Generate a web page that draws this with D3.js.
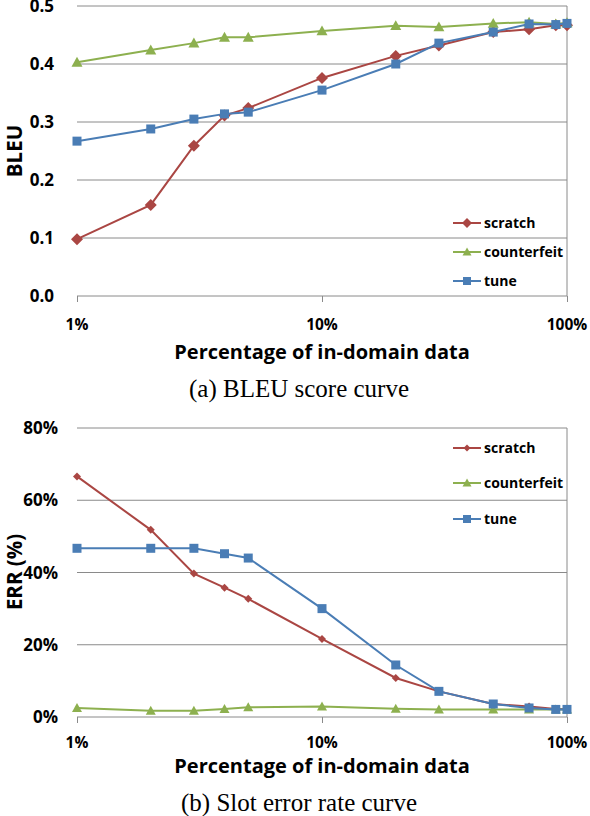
<!DOCTYPE html>
<html>
<head>
<meta charset="utf-8">
<script src="https://cdn.jsdelivr.net/npm/d3@7"></script>
<style>
body { margin: 0; background: #fff; }
</style>
</head>
<body>
<div id="chart"></div>
<script>
// percentage of in-domain data (x values, log scale)
var pct = [1, 2, 3, 4, 5, 10, 20, 30, 50, 70, 90, 100];
var xTicks = [1, 10, 100];
var xTickLabels = ["1%", "10%", "100%"];
var seriesNames = ["scratch", "counterfeit", "tune"];

// (a) BLEU
var bleuScratch     = [0.098, 0.157, 0.259, 0.311, 0.324, 0.376, 0.414, 0.432, 0.455, 0.460, 0.467, 0.467];
var bleuCounterfeit = [0.403, 0.424, 0.436, 0.446, 0.446, 0.457, 0.466, 0.464, 0.470, 0.472, 0.469, 0.471];
var bleuTune        = [0.267, 0.288, 0.305, 0.314, 0.317, 0.355, 0.400, 0.436, 0.455, 0.469, 0.468, 0.470];
var bleuTicks = [0, 0.1, 0.2, 0.3, 0.4, 0.5];

// (b) slot error rate
var errScratch     = [0.666, 0.518, 0.397, 0.358, 0.327, 0.216, 0.108, 0.071, 0.036, 0.029, 0.022, 0.022];
var errCounterfeit = [0.025, 0.017, 0.017, 0.022, 0.027, 0.029, 0.023, 0.021, 0.021, 0.021, 0.021, 0.021];
var errTune        = [0.467, 0.467, 0.467, 0.452, 0.440, 0.300, 0.144, 0.071, 0.036, 0.025, 0.021, 0.021];
var errTicks = [0, 0.2, 0.4, 0.6, 0.8];

var colors = { scratch: "#aa4643", counterfeit: "#8db04f", tune: "#4a7db5" };
var shapes = { scratch: "diamond", counterfeit: "triangle", tune: "square" };

var W = 590, H = 816;
var svg = d3.select("#chart").append("svg")
    .attr("width", W)
    .attr("height", H);

var labelFont = "'Open Sans', Lato, sans-serif";
var capFont = "'Liberation Serif', 'DejaVu Serif', serif";

// marker path, r = half width
function marker(shape, r) {
    if (shape == "diamond") return "M0," + (-r) + "L" + r + ",0L0," + r + "L" + (-r) + ",0Z";
    if (shape == "square") return "M" + (-r) + "," + (-r) + "h" + (2 * r) + "v" + (2 * r) + "h" + (-2 * r) + "Z";
    return "M0," + (-r) + "L" + r + "," + (0.8 * r) + "L" + (-r) + "," + (0.8 * r) + "Z";
}

function drawPanel(p) {
    var g = svg.append("g");
    var x = d3.scaleLog().domain([1, 100]).range([77, 567]);
    var y = d3.scaleLinear().domain(p.domain).range([p.bottom, p.top]);

    // gridlines
    g.selectAll(".grid").data(p.ticks.slice(1)).enter().append("line")
        .attr("x1", x(1)).attr("x2", x(100))
        .attr("y1", function(d) { return y(d); })
        .attr("y2", function(d) { return y(d); })
        .attr("stroke", "#8a8a8a").attr("stroke-width", 1);

    // right border
    g.append("line")
        .attr("x1", x(100)).attr("x2", x(100))
        .attr("y1", y(p.domain[1])).attr("y2", y(0))
        .attr("stroke", "#8a8a8a").attr("stroke-width", 1);

    // x axis
    var xAxis = d3.axisBottom(x).tickValues(xTicks).tickSize(6).tickFormat("");
    var ax = g.append("g").attr("transform", "translate(0," + y(0) + ")").call(xAxis);
    ax.select(".domain").attr("stroke", "#8a8a8a").attr("d", "M" + x(1) + ",0H" + x(100));
    ax.selectAll(".tick line").attr("stroke", "#8a8a8a");

    g.selectAll(".xlab").data(xTicks).enter().append("text")
        .attr("x", function(d) { return x(d); })
        .attr("y", p.xLabelY)
        .attr("text-anchor", "middle")
        .attr("font-family", labelFont).attr("font-weight", "bold").attr("font-size", 15.5)
        .text(function(d, i) { return xTickLabels[i]; });

    // y labels
    g.selectAll(".ylab").data(p.ticks).enter().append("text")
        .attr("x", p.yLabelX)
        .attr("y", function(d) { return y(d) + 6; })
        .attr("text-anchor", "end")
        .attr("font-family", labelFont).attr("font-weight", "bold").attr("font-size", 17)
        .text(function(d) { return p.fmt(d); });

    // axis titles
    g.append("text")
        .attr("x", (x(1) + x(100)) / 2).attr("y", p.xTitleY)
        .attr("text-anchor", "middle")
        .attr("font-family", labelFont).attr("font-weight", "bold").attr("font-size", 20)
        .text("Percentage of in-domain data");

    g.append("text")
        .attr("transform", "translate(" + 21.5 + "," + p.yTitleMid + ") rotate(-90)")
        .attr("text-anchor", "middle")
        .attr("font-family", labelFont).attr("font-weight", "bold").attr("font-size", 20.5)
        .text(p.yTitle);

    // caption
    g.append("text")
        .attr("x", 299).attr("y", p.captionY)
        .attr("text-anchor", "middle")
        .attr("font-family", capFont).attr("font-size", 25)
        .text(p.caption);

    // series
    var line = d3.line()
        .x(function(d) { return x(d.x); })
        .y(function(d) { return y(d.y); });

    p.series.forEach(function(s) {
        var pts = pct.map(function(v, i) { return { x: v, y: s.values[i] }; });
        g.append("path").datum(pts)
            .attr("d", line)
            .attr("fill", "none")
            .attr("stroke", colors[s.name])
            .attr("stroke-width", 2);
        g.selectAll(".m-" + s.name).data(pts).enter().append("path")
            .attr("transform", function(d) { return "translate(" + x(d.x) + "," + y(d.y) + ")"; })
            .attr("d", marker(shapes[s.name], p.sizes[s.name]))
            .attr("fill", colors[s.name]);
    });

    // legend
    seriesNames.forEach(function(n, i) {
        var ly = p.legendY[i];
        g.append("line")
            .attr("x1", 453).attr("x2", 481)
            .attr("y1", ly).attr("y2", ly)
            .attr("stroke", colors[n]).attr("stroke-width", 2);
        g.append("path")
            .attr("transform", "translate(467," + ly + ")")
            .attr("d", marker(shapes[n], p.legendSizes[n]))
            .attr("fill", colors[n]);
        g.append("text")
            .attr("x", 484).attr("y", ly + 5)
            .attr("font-family", labelFont).attr("font-weight", "bold").attr("font-size", 14)
            .text(n);
    });
}

drawPanel({
    domain: [0, 0.5], top: 6, bottom: 296,
    ticks: bleuTicks, fmt: d3.format(".1f"),
    yLabelX: 54, xLabelY: 330, xTitleY: 359, captionY: 397,
    yTitle: "BLEU", yTitleMid: 151, caption: "(a) BLEU score curve",
    series: [
        { name: "scratch", values: bleuScratch },
        { name: "counterfeit", values: bleuCounterfeit },
        { name: "tune", values: bleuTune }
    ],
    sizes: { scratch: 6, counterfeit: 5.5, tune: 4.5 },
    legendSizes: { scratch: 5, counterfeit: 4.5, tune: 4 },
    legendY: [223, 252, 281]
});

drawPanel({
    domain: [0, 0.8], top: 428, bottom: 717,
    ticks: errTicks, fmt: d3.format(".0%"),
    yLabelX: 58, xLabelY: 748, xTitleY: 773, captionY: 811,
    yTitle: "ERR (%)", yTitleMid: 572, caption: "(b) Slot error rate curve",
    series: [
        { name: "scratch", values: errScratch },
        { name: "counterfeit", values: errCounterfeit },
        { name: "tune", values: errTune }
    ],
    sizes: { scratch: 4, counterfeit: 5, tune: 4.5 },
    legendSizes: { scratch: 3.5, counterfeit: 4.5, tune: 4 },
    legendY: [448, 483, 519]
});
</script>
</body>
</html>
